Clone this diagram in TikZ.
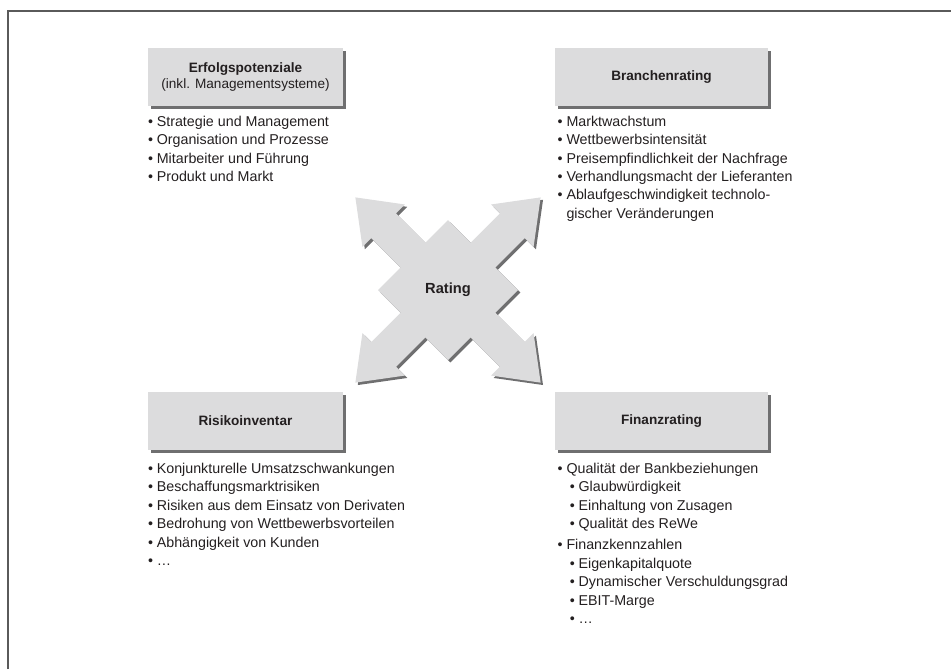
\documentclass[tikz,border=0pt]{standalone}
\usepackage{fontspec}
\setmainfont{Liberation Sans}
\usetikzlibrary{positioning,shadows}
\definecolor{panelgray}{HTML}{DCDCDD}
\definecolor{shadowgray}{HTML}{6F6F70}
\definecolor{framegray}{HTML}{5A5A5A}
\definecolor{textblack}{HTML}{231F20}
\newcommand{\bul}{\makebox[0.62em][l]{\textbullet}}
\newcommand{\subbul}{\hspace*{0.85em}\bul}
\tikzset{
  ratingbox/.style={
    rectangle,
    fill=panelgray,
    minimum height=43.5pt,
    inner sep=2pt,
    align=center,
    text=textblack,
    font=\fontsize{10.2}{12.6}\selectfont,
    drop shadow={shadow xshift=2.2pt,shadow yshift=-2.2pt,fill=shadowgray,opacity=1}
  },
  narrowbox/.style={ratingbox, minimum width=146.25pt},
  widebox/.style={ratingbox, minimum width=159.75pt},
  itemlist/.style={
    inner sep=0pt,
    align=left,
    text=textblack,
    font=\fontsize{10.7}{13.8}\selectfont
  },
  arm/.style={rotate=#1},
  hubtext/.style={text=textblack, font=\fontsize{11}{13}\selectfont\bfseries}
}

\begin{document}
\begin{tikzpicture}[x=0.75pt, y=-0.75pt]
  \useasboundingbox (0,0) rectangle (951,669);
  \draw[framegray, line width=1.1pt] (8,669) -- (8,11) -- (951,11);

  % the cross of four arrows: shadow first, then the light body
  \coordinate (hub) at (448,290);
  \begin{scope}[shift={(hub)}]
    \foreach \col/\off in {shadowgray/2.4, panelgray/0} {
      \fill[\col, shift={(\off,\off)}] (0,-70) -- (70,0) -- (0,70) -- (-70,0) -- cycle;
      \foreach \a in {45,135,225,315}
        \fill[\col, shift={(\off,\off)}, arm=\a]
          (40,-17.5) -- (91,-17.5) -- (91,-30) -- (131,0) -- (91,30) -- (91,17.5) -- (40,17.5) -- cycle;
    }
  \end{scope}
  \node[hubtext] (rating) at (hub) {Rating};

  % title boxes
  \node[narrowbox] (erfolg) at (245.5,77) {\textbf{Erfolgspotenziale}\\(inkl. Managementsysteme)};
  \node[widebox] (branche) at (661.5,77) {\textbf{Branchenrating}};
  \node[narrowbox] (risiko) at (245.5,421) {\textbf{Risikoinventar}};
  \node[widebox] (finanz) at (661.5,421) {\textbf{Finanzrating}};

  % item lists under the boxes
  \node[itemlist, below right=7pt and 0pt of erfolg.south west] (erfolglist) {%
    \bul Strategie und Management\\
    \bul Organisation und Prozesse\\
    \bul Mitarbeiter und Führung\\
    \bul Produkt und Markt};
  \node[itemlist, below right=7pt and 2pt of branche.south west] (branchelist) {%
    \bul Marktwachstum\\
    \bul Wettbewerbsintensität\\
    \bul Preisempfindlichkeit der Nachfrage\\
    \bul Verhandlungsmacht der Lieferanten\\
    \bul Ablaufgeschwindigkeit technolo-\\
    \phantom{\bul}gischer Veränderungen};
  \node[itemlist, below right=9.5pt and 0pt of risiko.south west] (risikolist) {%
    \bul Konjunkturelle Umsatzschwankungen\\
    \bul Beschaffungsmarktrisiken\\
    \bul Risiken aus dem Einsatz von Derivaten\\
    \bul Bedrohung von Wettbewerbsvorteilen\\
    \bul Abhängigkeit von Kunden\\
    \bul \dots};
  \node[itemlist, below right=9.5pt and 2pt of finanz.south west] (finanzlist) {%
    \bul Qualität der Bankbeziehungen\\
    \subbul Glaubwürdigkeit\\
    \subbul Einhaltung von Zusagen\\
    \subbul Qualität des ReWe\\[2pt]
    \bul Finanzkennzahlen\\
    \subbul Eigenkapitalquote\\
    \subbul Dynamischer Verschuldungsgrad\\
    \subbul EBIT-Marge\\
    \subbul \dots};
\end{tikzpicture}
\end{document}
